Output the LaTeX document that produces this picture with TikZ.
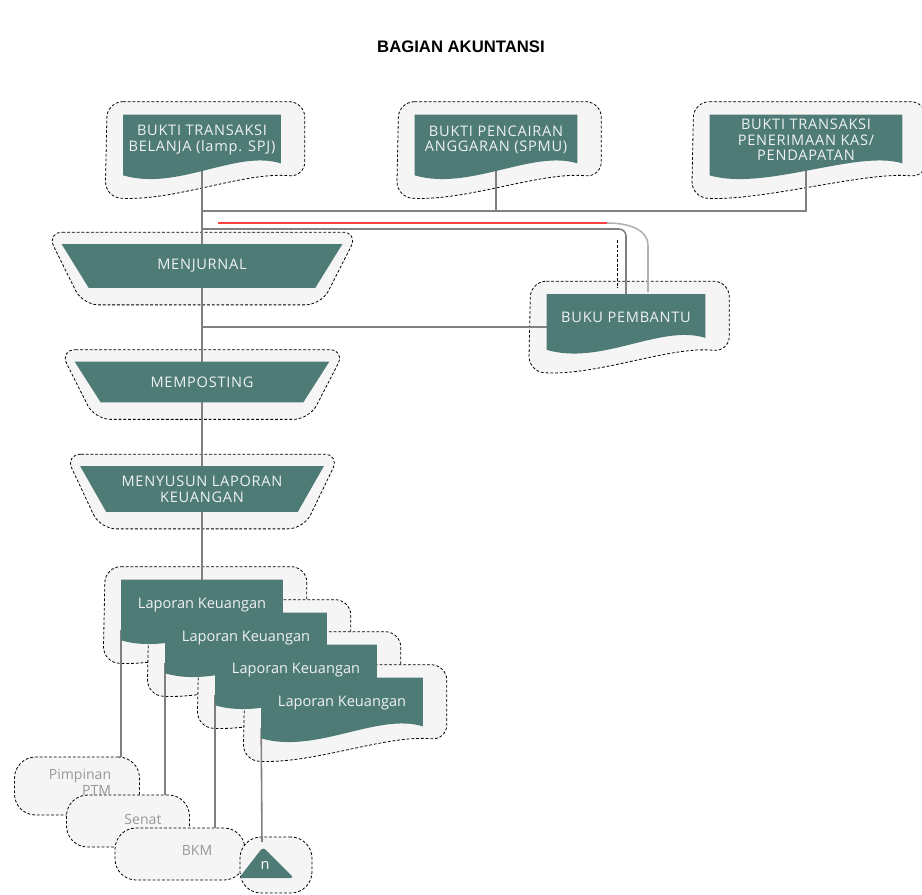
\documentclass[tikz,border=0pt]{standalone}
\usepackage{fontspec}
\setmainfont{Open Sans}
\newfontfamily\titlefont{Liberation Sans}
\newfontfamily\capsfont[LetterSpace=5]{Open Sans}
\usetikzlibrary{calc}
\definecolor{tealc}{HTML}{4F7B77}
\pgfdeclarelayer{halo}
\pgfdeclarelayer{lines}
\pgfdeclarelayer{shape}
\pgfsetlayers{halo,lines,shape,main}
\newcommand{\boxfont}{\fontsize{8.3}{8.9}\selectfont}
\tikzset{
  docnode/.style={minimum width=#1, minimum height=1cm, inner sep=1pt, align=center, text=white!90!tealc, font=\capsfont\boxfont},
  prcnode/.style={minimum width=#1, minimum height=0.84cm, inner sep=1pt, align=center, text=white!90!tealc, font=\capsfont\boxfont},
  lapnode/.style={docnode=#1, font=\boxfont},
  halo/.style={draw=black, fill=black!4, line width=0.45pt, dash pattern=on 1.6pt off 1.1pt, rounded corners=9pt},
  blobnode/.style={halo, rounded corners=12pt},
  softtext/.style={text=black!40, font=\fontsize{8}{9}\selectfont, inner sep=1pt},
  link/.style={draw=black!50, line width=0.9pt},
  redline/.style={draw=red!75, line width=0.6pt}
}
\newcommand{\docshape}[1]{%
  \begin{pgfonlayer}{halo}
    \path[halo] ($(#1.north west)+(-16,-13)$) -- ($(#1.north east)+(24,-13)$) -- ($(#1.south east)+(24,12)$)
      .. controls +(-60,-6) and +(70,4) .. ($(#1.south west)+(-18,32)$) -- cycle;
  \end{pgfonlayer}
  \begin{pgfonlayer}{shape}
    \fill[tealc] ($(#1.south west)+(0,10)$) -- (#1.north west) -- (#1.north east) -- ($(#1.south east)+(0,-2)$)
      .. controls +(-45,-14) and +(55,16) .. ($(#1.south west)+(0,10)$) -- cycle;
  \end{pgfonlayer}}
\newcommand{\trapshape}[2]{%
  \begin{pgfonlayer}{halo}
    \path[halo] ($(#1.north west)+(-15,-12)$) -- ($(#1.north east)+(16,-12)$) -- ($(#1.south east)+(-#2+6,17)$)
      -- ($(#1.south west)+(#2-6,17)$) -- cycle;
  \end{pgfonlayer}
  \begin{pgfonlayer}{shape}
    \fill[tealc] (#1.north west) -- (#1.north east) -- ($(#1.south east)+(-#2,0)$) -- ($(#1.south west)+(#2,0)$) -- cycle;
  \end{pgfonlayer}}

\begin{document}
\begin{tikzpicture}[x=0.02cm,y=-0.02cm]
\useasboundingbox (0,0) rectangle (922,894);
\node[font=\titlefont\bfseries\fontsize{9.5}{11}\selectfont] (title) at (461,47) {BAGIAN AKUNTANSI};
\node[docnode=3.14cm] (d1) at (202,140) {BUKTI TRANSAKSI\\BELANJA (lamp. SPJ)};
\node[docnode=3.24cm] (d2) at (496,140) {BUKTI PENCAIRAN\\ANGGARAN (SPMU)};
\node[docnode=3.84cm] (d3) at (806,140) {BUKTI TRANSAKSI\\PENERIMAAN KAS/\\PENDAPATAN};
\node[prcnode=5.6cm, minimum height=0.86cm] (menj) at (202,266) {MENJURNAL};
\node[docnode=3.16cm, minimum height=0.9cm] (bp) at (626,317) {BUKU PEMBANTU};
\node[prcnode=5.08cm, minimum height=0.8cm] (memp) at (202,382) {MEMPOSTING};
\node[prcnode=4.86cm, minimum height=0.9cm] (meny) at (202,489) {MENYUSUN LAPORAN\\KEUANGAN};
\node[lapnode=3.22cm] (lap1) at (202,605) {Laporan Keuangan};
\node[lapnode=3.22cm] (lap2) at (246,638) {Laporan Keuangan};
\node[lapnode=3.22cm] (lap3) at (296,670) {Laporan Keuangan};
\node[lapnode=3.22cm] (lap4) at (342,703) {Laporan Keuangan};
\docshape{d1}
\docshape{d2}
\docshape{d3}
\docshape{bp}
\trapshape{menj}{27}
\trapshape{memp}{26}
\trapshape{meny}{26}
\docshape{lap1}
\docshape{lap2}
\docshape{lap3}
\docshape{lap4}
\begin{pgfonlayer}{halo}
\node[blobnode, minimum width=2.5cm, minimum height=1.16cm] (pim) at (77,786) {};
\node[blobnode, minimum width=2.46cm, minimum height=1.04cm] (senat) at (128,821) {};
\node[blobnode, minimum width=2.6cm, minimum height=1.04cm] (bkm) at (180,854) {};
\node[blobnode, minimum width=1.44cm, minimum height=1.12cm] (nbox) at (276,865) {};
\end{pgfonlayer}
\begin{pgfonlayer}{shape}
\fill[tealc, rounded corners=2pt] (263,847) -- (294,878) -- (239,878) -- cycle;
\end{pgfonlayer}
\node[softtext, align=right] (pimtxt) at (80,782) {Pimpinan\\PTM};
\node[softtext] (senattxt) at (143,819) {Senat};
\node[softtext] (bkmtxt) at (197,850) {BKM};
\node[text=white, font=\boxfont] (ntxt) at (265,866) {n};
\coordinate (j1) at (202,211);
\coordinate (j2) at (202,229);
\coordinate (j3) at (202,327);
\coordinate (napex) at (262,842);
\begin{pgfonlayer}{lines}
\draw[link] (d1.south) -- (menj.north);
\draw[link] (menj.south) -- (memp.north);
\draw[link] (memp.south) -- (meny.north);
\draw[link] (meny.south) -- (lap1.north);
\draw[link] (j1) -| (d3.south);
\draw[link] (d2.south) -- (d2.south |- j1);
\draw[link, rounded corners=4pt] (j2) -| (bp.north);
\draw[link] (j3) -- (j3 -| bp.west);
\draw[redline] (218,223) -- (607,223);
\draw[link, black!30] (607,223) to[out=0,in=90] (648,246) -- (648,292);
\draw[halo, fill=none] (617,240) -- (617,288);
\draw[link] (lap1.south west) -- (lap1.south west |- pim.north);
\draw[link] (lap2.south west) -- (lap2.south west |- senat.north);
\draw[link] (lap3.south west) -- (lap3.south west |- bkm.north);
\draw[link] (lap4.south west) -- (napex);
\end{pgfonlayer}
\end{tikzpicture}
\end{document}
